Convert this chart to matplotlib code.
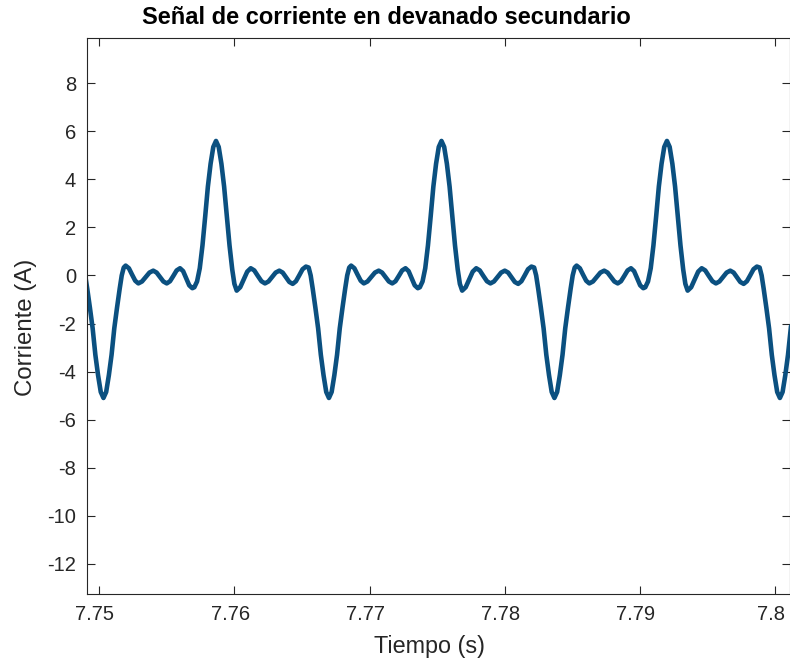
import matplotlib
matplotlib.use("Agg")
import matplotlib.pyplot as plt
import matplotlib.transforms as mtransforms

plt.rcParams['font.family'] = ['Liberation Sans', 'DejaVu Sans']

# ---- data (time in s, current in A) ----
tiempo_ini = [7.74883, 7.74898, 7.74913, 7.74933, 7.74953, 7.74973, 7.74993, 7.75013, 7.75033]
corriente_ini = [0.33, 0.00, -0.55, -1.35, -2.20, -3.30, -4.15, -4.85, -5.10]

tiempo_p1 = [7.75053, 7.75073, 7.75093, 7.75113, 7.75133, 7.75153, 7.75168, 7.75183, 7.75197,
             7.75221, 7.75244, 7.75268, 7.75291, 7.75318, 7.75346, 7.75373, 7.75401, 7.75426,
             7.75451, 7.75476, 7.75501, 7.75525, 7.75550, 7.75574, 7.75599, 7.75622, 7.75645,
             7.75667, 7.75690, 7.75705, 7.75725, 7.75745, 7.75765, 7.75785, 7.75805, 7.75825,
             7.75845, 7.75865, 7.75885, 7.75905, 7.75925, 7.75945, 7.75965, 7.75985, 7.76001,
             7.76018, 7.76044, 7.76070, 7.76096, 7.76122, 7.76148, 7.76174, 7.76201, 7.76227,
             7.76253, 7.76280, 7.76306, 7.76333, 7.76358, 7.76383, 7.76407, 7.76432, 7.76456,
             7.76481, 7.76505, 7.76530, 7.76550, 7.76565, 7.76580, 7.76600, 7.76620, 7.76640,
             7.76660, 7.76680, 7.76700]
corriente_p1 = [-4.85, -4.15, -3.30, -2.20, -1.35, -0.55, 0.00, 0.33, 0.41,
                0.30, 0.04, -0.22, -0.33, -0.25, -0.065, 0.12, 0.20, 0.12,
                -0.065, -0.25, -0.33, -0.24, -0.015, 0.21, 0.30, 0.18, -0.12,
                -0.41, -0.53, -0.49, -0.25, 0.30, 1.25, 2.45, 3.70, 4.65,
                5.35, 5.60, 5.35, 4.65, 3.70, 2.45, 1.25, 0.25, -0.35,
                -0.63, -0.49, -0.165, 0.16, 0.30, 0.21, -0.015, -0.24, -0.33,
                -0.25, -0.065, 0.12, 0.20, 0.12, -0.075, -0.27, -0.35, -0.24,
                0.01, 0.26, 0.37, 0.33, 0.00, -0.55, -1.35, -2.20, -3.30,
                -4.15, -4.85, -5.10]

tiempo_p2 = [7.76720, 7.76740, 7.76760, 7.76780, 7.76800, 7.76820, 7.76835, 7.76850, 7.76864,
             7.76888, 7.76911, 7.76935, 7.76958, 7.76985, 7.77013, 7.77040, 7.77068, 7.77093,
             7.77118, 7.77143, 7.77168, 7.77192, 7.77217, 7.77241, 7.77266, 7.77289, 7.77312,
             7.77334, 7.77357, 7.77372, 7.77392, 7.77412, 7.77432, 7.77452, 7.77472, 7.77492,
             7.77512, 7.77532, 7.77552, 7.77572, 7.77592, 7.77612, 7.77632, 7.77652, 7.77668,
             7.77685, 7.77711, 7.77737, 7.77763, 7.77789, 7.77815, 7.77841, 7.77868, 7.77894,
             7.77920, 7.77947, 7.77973, 7.78000, 7.78025, 7.78050, 7.78074, 7.78099, 7.78123,
             7.78148, 7.78172, 7.78197, 7.78217, 7.78232, 7.78247, 7.78267, 7.78287, 7.78307,
             7.78327, 7.78347, 7.78367]
corriente_p2 = [-4.85, -4.15, -3.30, -2.20, -1.35, -0.55, 0.00, 0.33, 0.41,
                0.30, 0.04, -0.22, -0.33, -0.25, -0.065, 0.12, 0.20, 0.12,
                -0.065, -0.25, -0.33, -0.24, -0.015, 0.21, 0.30, 0.18, -0.12,
                -0.41, -0.53, -0.49, -0.25, 0.30, 1.25, 2.45, 3.70, 4.65,
                5.35, 5.60, 5.35, 4.65, 3.70, 2.45, 1.25, 0.25, -0.35,
                -0.63, -0.49, -0.165, 0.16, 0.30, 0.21, -0.015, -0.24, -0.33,
                -0.25, -0.065, 0.12, 0.20, 0.12, -0.075, -0.27, -0.35, -0.24,
                0.01, 0.26, 0.37, 0.33, 0.00, -0.55, -1.35, -2.20, -3.30,
                -4.15, -4.85, -5.10]

tiempo_p3 = [7.78387, 7.78407, 7.78427, 7.78447, 7.78467, 7.78487, 7.78502, 7.78517, 7.78531,
             7.78555, 7.78578, 7.78602, 7.78625, 7.78652, 7.78680, 7.78707, 7.78735, 7.78760,
             7.78785, 7.78810, 7.78835, 7.78859, 7.78884, 7.78908, 7.78933, 7.78956, 7.78979,
             7.79001, 7.79024, 7.79039, 7.79059, 7.79079, 7.79099, 7.79119, 7.79139, 7.79159,
             7.79179, 7.79199, 7.79219, 7.79239, 7.79259, 7.79279, 7.79299, 7.79319, 7.79335,
             7.79352, 7.79378, 7.79404, 7.79430, 7.79456, 7.79482, 7.79508, 7.79535, 7.79561,
             7.79587, 7.79614, 7.79640, 7.79667, 7.79692, 7.79717, 7.79741, 7.79766, 7.79790,
             7.79815, 7.79839, 7.79864, 7.79884, 7.79899, 7.79914, 7.79934, 7.79954, 7.79974,
             7.79994, 7.80014, 7.80034]
corriente_p3 = [-4.85, -4.15, -3.30, -2.20, -1.35, -0.55, 0.00, 0.33, 0.41,
                0.30, 0.04, -0.22, -0.33, -0.25, -0.065, 0.12, 0.20, 0.12,
                -0.065, -0.25, -0.33, -0.24, -0.015, 0.21, 0.30, 0.18, -0.12,
                -0.41, -0.53, -0.49, -0.25, 0.30, 1.25, 2.45, 3.70, 4.65,
                5.35, 5.60, 5.35, 4.65, 3.70, 2.45, 1.25, 0.25, -0.35,
                -0.63, -0.49, -0.165, 0.16, 0.30, 0.21, -0.015, -0.24, -0.33,
                -0.25, -0.065, 0.12, 0.20, 0.12, -0.075, -0.27, -0.35, -0.24,
                0.01, 0.26, 0.37, 0.33, 0.00, -0.55, -1.35, -2.20, -3.30,
                -4.15, -4.85, -5.10]

tiempo_fin = [7.80054, 7.80074, 7.80094, 7.80114, 7.80134]
corriente_fin = [-4.85, -4.15, -3.30, -2.20, -1.35]

xticks = [7.75, 7.76, 7.77, 7.78, 7.79, 7.80]
xtick_labels = ['7.75', '7.76', '7.77', '7.78', '7.79', '7.8']
yticks = [-12, -10, -8, -6, -4, -2, 0, 2, 4, 6, 8]
ytick_labels = ['-12', '-10', '-8', '-6', '-4', '-2', '0', '2', '4', '6', '8']

tiempo = tiempo_ini + tiempo_p1 + tiempo_p2 + tiempo_p3 + tiempo_fin
corriente = corriente_ini + corriente_p1 + corriente_p2 + corriente_p3 + corriente_fin

# ---- figure ----
W, H = 790, 662
fig = plt.figure(figsize=(W / 100, H / 100), dpi=100)
left, right, top, bottom = 87.3, 789.5, 38.3, 594.0
ax = fig.add_axes([left / W, 1 - bottom / H, (right - left) / W, (bottom - top) / H])

ax.plot(tiempo, corriente, color='#0b5080', linewidth=3.3, solid_joinstyle='round',
        solid_capstyle='round')

ax.set_xlim(7.749135, 7.80105)
ax.set_ylim(-13.26, 9.873)
ax.set_xticks(xticks)
ax.set_xticklabels(xtick_labels)
ax.set_yticks(yticks)
ax.set_yticklabels(ytick_labels)

edge = '#262626'
for s in ax.spines.values():
    s.set_color(edge)
    s.set_linewidth(0.8)
ax.tick_params(direction='in', length=5.5, width=0.8, color=edge, labelcolor=edge,
               labelsize=14.5, top=True, right=True, pad=8)

shift = mtransforms.ScaledTranslation(-4 / 100, 0, fig.dpi_scale_trans)
for lbl in ax.get_xticklabels():
    lbl.set_transform(lbl.get_transform() + shift)

fig.text(386 / W, 1 - 18 / H, 'Señal de corriente en devanado secundario',
         ha='center', va='center', fontsize=17, fontweight='bold', color='black')
fig.text(430 / W, 1 - 647 / H, 'Tiempo (s)', ha='center', va='center',
         fontsize=16.8, color=edge)
fig.text(26 / W, 1 - 327 / H, 'Corriente (A)', ha='center', va='center',
         rotation=90, fontsize=17.3, color=edge)

fig.savefig('out.png', dpi=100)
